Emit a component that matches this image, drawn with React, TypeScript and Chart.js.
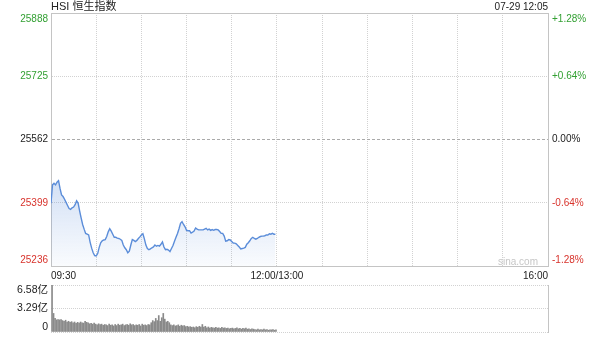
import React, { useEffect, useRef } from 'react';
import { Chart, registerables } from 'chart.js';

Chart.register(...registerables);

const FONT = '"Liberation Sans", Arial, "Noto Sans CJK SC", sans-serif';

const TITLE = 'HSI 恒生指数';
const STAMP = '07-29 12:05';
const WATERMARK = 'sina.com';

const prevClose = 25562;
const priceTicks = [25236, 25399, 25562, 25725, 25888];
const pctLabels = ['-1.28%', '-0.64%', '0.00%', '+0.64%', '+1.28%'];
const timeTicks = [0, 30, 60, 90, 120, 150, 180, 210, 240, 270, 300, 330];
const timeLabels = ['09:30', '', '', '', '', '12:00/13:00', '', '', '', '', '', '16:00'];
const volTicks = [0, 3.29, 6.58];
const volLabels = ['0', '3.29亿', '6.58亿'];

// one value per minute from 09:30
const prices = [
  25398, 25445, 25449, 25445, 25452, 25456, 25436, 25419, 25415, 25408,
  25400, 25392, 25384, 25382, 25386, 25388, 25394, 25404, 25398, 25378,
  25360, 25343, 25331, 25320, 25318, 25316, 25297, 25282, 25270, 25263,
  25262, 25268, 25284, 25296, 25301, 25303, 25304, 25312, 25324, 25332,
  25326, 25318, 25310, 25310, 25308, 25307, 25305, 25302, 25290, 25283,
  25278, 25270, 25274, 25290, 25304, 25302, 25299, 25302, 25307, 25311,
  25316, 25319, 25306, 25290, 25281, 25278, 25280, 25283, 25285, 25290,
  25287, 25289, 25287, 25292, 25298, 25285, 25278, 25279, 25277, 25273,
  25281, 25289, 25300, 25310, 25320, 25332, 25346, 25350, 25343, 25337,
  25328, 25327, 25327, 25321, 25323, 25326, 25334, 25331, 25329, 25329,
  25329, 25329, 25331, 25333, 25329, 25331, 25328, 25330, 25328, 25330,
  25330, 25329, 25325, 25320, 25320, 25313, 25300, 25301, 25304, 25303,
  25299, 25295, 25295, 25293, 25289, 25285, 25280, 25281, 25282, 25284,
  25292, 25296, 25301, 25307, 25310, 25307, 25305, 25307, 25310, 25312,
  25313, 25313, 25314, 25316, 25316, 25319, 25318, 25320, 25318, 25318,
];

// volume per minute, in 亿
const volumes = [
  6.58, 2.6, 1.9, 1.7, 1.75, 1.7, 1.75, 1.6, 1.5, 1.65,
  1.4, 1.5, 1.35, 1.45, 1.3, 1.4, 1.2, 1.35, 1.25, 1.4,
  1.3, 1.25, 1.5, 1.35, 1.3, 1.15, 1.2, 1.1, 1.25, 1.1,
  1.0, 1.15, 1.05, 1.1, 0.95, 1.05, 1.0, 0.9, 1.1, 0.95,
  1.0, 0.85, 1.05, 0.9, 1.1, 0.95, 1.0, 1.1, 0.9, 1.0,
  1.05, 0.95, 1.15, 1.0, 1.05, 0.9, 1.0, 0.95, 1.05, 0.85,
  1.1, 0.95, 1.0, 0.9, 1.05, 1.0, 1.3, 1.6, 1.45, 1.9,
  1.6, 2.3, 1.5, 2.0, 2.6, 1.8, 1.4, 1.5, 1.3, 1.0,
  0.9, 1.0, 0.85, 0.9, 1.0, 0.8, 0.95, 0.85, 0.9, 0.75,
  0.8, 0.7, 0.75, 0.65, 0.7, 0.6, 0.75, 0.65, 0.8, 0.7,
  1.05, 0.7, 0.8, 0.6, 0.7, 0.55, 0.65, 0.6, 0.55, 0.65,
  0.55, 0.6, 0.5, 0.65, 0.55, 0.6, 0.5, 0.55, 0.45, 0.5,
  0.55, 0.45, 0.5, 0.6, 0.45, 0.5, 0.4, 0.5, 0.45, 0.55,
  0.4, 0.45, 0.35, 0.45, 0.4, 0.35, 0.3, 0.4, 0.3, 0.35,
  0.3, 0.4, 0.3, 0.35, 0.25, 0.3, 0.3, 0.35, 0.25, 0.3,
];

const GREEN = '#33a033';
const RED = '#d8332c';
const DARK = '#222222';
const GRID = '#d2d2d2';
const BORDER = '#c4c4c4';
const LINE = '#5b8dd9';

const priceColor = (v: number) => (v > prevClose ? GREEN : v < prevClose ? RED : DARK);

const shiftLabel = (text: string, v: number, lo: number, hi: number) => {
  if (v === hi) return ['', text];
  if (v === lo) return [text, ''];
  return text;
};

const fixSize = (prop: 'width' | 'height', size: number) => (s: any) => {
  s[prop] = size;
  s.paddingTop = 0;
  s.paddingBottom = 0;
  s.paddingLeft = 0;
  s.paddingRight = 0;
};

const headerPlugin = {
  id: 'header',
  afterDraw(chart: any) {
    const { ctx, chartArea } = chart;
    ctx.save();
    ctx.textBaseline = 'middle';
    ctx.fillStyle = DARK;
    ctx.font = `11px ${FONT}`;
    ctx.textAlign = 'left';
    ctx.fillText(TITLE, chartArea.left, 7);
    ctx.font = `10px ${FONT}`;
    ctx.textAlign = 'right';
    ctx.fillText(STAMP, chartArea.right, 7);
    ctx.fillStyle = '#c6c6c6';
    ctx.font = `10px ${FONT}`;
    ctx.fillText(WATERMARK, chartArea.right - 10, chartArea.bottom - 4);
    ctx.restore();
  },
};

export default function App() {
  const mainRef = useRef<HTMLCanvasElement>(null);
  const volRef = useRef<HTMLCanvasElement>(null);

  useEffect(() => {
    const isEdge = (v: number) => v === priceTicks[0] || v === priceTicks[priceTicks.length - 1];
    const main = new Chart(mainRef.current as HTMLCanvasElement, {
      type: 'line',
      data: {
        datasets: [
          {
            data: prices.map((p, i) => ({ x: i, y: p })),
            borderColor: LINE,
            borderWidth: 1.4,
            pointRadius: 0,
            tension: 0,
            fill: 'start',
            backgroundColor: (ctx: any) => {
              const { chart } = ctx;
              const area = chart.chartArea;
              if (!area) return 'rgba(91,141,217,0.15)';
              const g = chart.ctx.createLinearGradient(0, area.top + 165, 0, area.bottom);
              g.addColorStop(0, 'rgba(91,141,217,0.28)');
              g.addColorStop(1, 'rgba(91,141,217,0.03)');
              return g;
            },
          },
        ],
      },
      options: {
        animation: false,
        responsive: false,
        maintainAspectRatio: false,
        layout: { padding: 0 },
        plugins: { legend: { display: false }, tooltip: { enabled: false } },
        scales: {
          x: {
            type: 'linear',
            position: 'bottom',
            min: 0,
            max: 330,
            offset: false,
            afterBuildTicks: (s: any) => {
              s.ticks = timeTicks.map((v) => ({ value: v }));
            },
            afterFit: fixSize('height', 14),
            ticks: {
              autoSkip: false,
              maxRotation: 0,
              align: 'inner',
              padding: 4,
              color: DARK,
              font: { family: FONT, size: 10 },
              callback: (v: any) => timeLabels[timeTicks.indexOf(Number(v))] ?? '',
            },
            grid: {
              drawTicks: false,
              offset: false,
              color: (ctx: any) =>
                ctx.tick && (ctx.tick.value === 0 || ctx.tick.value === 330) ? 'rgba(0,0,0,0)' : GRID,
            },
            border: { display: true, color: BORDER, dash: [1, 1] },
          },
          xTop: {
            type: 'linear',
            position: 'top',
            min: 0,
            max: 330,
            afterFit: fixSize('height', 13),
            ticks: { display: false },
            grid: { display: false, drawTicks: false },
            border: { display: true, color: BORDER },
          },
          y: {
            type: 'linear',
            position: 'left',
            min: priceTicks[0],
            max: priceTicks[priceTicks.length - 1],
            afterBuildTicks: (s: any) => {
              s.ticks = priceTicks.map((v) => ({ value: v }));
            },
            afterFit: fixSize('width', 51),
            ticks: {
              autoSkip: false,
              padding: 3,
              font: { family: FONT, size: 10 },
              color: (ctx: any) => priceColor(ctx.tick ? ctx.tick.value : prevClose),
              callback: (v: any) =>
                shiftLabel(String(v), Number(v), priceTicks[0], priceTicks[priceTicks.length - 1]),
            },
            grid: {
              drawTicks: false,
              color: (ctx: any) => {
                if (!ctx.tick) return GRID;
                if (isEdge(ctx.tick.value)) return 'rgba(0,0,0,0)';
                return ctx.tick.value === prevClose ? '#aaaaaa' : GRID;
              },
            },
            border: {
              display: true,
              color: BORDER,
              dash: (ctx: any) => (ctx.tick && ctx.tick.value === prevClose ? [3, 2] : [1, 1]),
            },
          },
          yRight: {
            type: 'linear',
            position: 'right',
            min: priceTicks[0],
            max: priceTicks[priceTicks.length - 1],
            afterBuildTicks: (s: any) => {
              s.ticks = priceTicks.map((v) => ({ value: v }));
            },
            afterFit: fixSize('width', 52),
            ticks: {
              autoSkip: false,
              padding: 4,
              font: { family: FONT, size: 10 },
              color: (ctx: any) => priceColor(ctx.tick ? ctx.tick.value : prevClose),
              callback: (v: any) =>
                shiftLabel(
                  pctLabels[priceTicks.indexOf(Number(v))] ?? '',
                  Number(v),
                  priceTicks[0],
                  priceTicks[priceTicks.length - 1]
                ),
            },
            grid: { display: false, drawTicks: false },
            border: { display: true, color: BORDER },
          },
        },
      } as any,
      plugins: [headerPlugin],
    });

    const vol = new Chart(volRef.current as HTMLCanvasElement, {
      type: 'bar',
      data: {
        datasets: [
          {
            data: volumes.map((v, i) => ({ x: i, y: v })),
            backgroundColor: '#8a8a8a',
            barThickness: 1,
          },
        ],
      },
      options: {
        animation: false,
        responsive: false,
        maintainAspectRatio: false,
        layout: { padding: { top: 5, bottom: 5, left: 0, right: 0 } },
        plugins: { legend: { display: false }, tooltip: { enabled: false } },
        scales: {
          x: {
            type: 'linear',
            min: -0.7,
            max: 330,
            offset: false,
            grid: { offset: false },
            display: false,
          },
          y: {
            type: 'linear',
            position: 'left',
            min: 0,
            max: volTicks[volTicks.length - 1],
            afterBuildTicks: (s: any) => {
              s.ticks = volTicks.map((v) => ({ value: v }));
            },
            afterFit: fixSize('width', 51),
            ticks: {
              autoSkip: false,
              padding: 3,
              color: DARK,
              font: { family: FONT, size: 10.5, lineHeight: 1.0 },
              callback: (v: any) =>
                shiftLabel(
                  volLabels[volTicks.indexOf(Number(v))] ?? '',
                  Number(v),
                  volTicks[0],
                  volTicks[volTicks.length - 1]
                ),
            },
            grid: { drawTicks: false, color: GRID },
            border: { display: false, dash: [1, 1] },
          },
          y2: {
            type: 'linear',
            position: 'right',
            min: 0,
            max: volTicks[volTicks.length - 1],
            afterFit: fixSize('width', 52),
            ticks: { display: false },
            grid: { display: false, drawTicks: false },
            border: { display: true, color: BORDER },
          },
        },
      } as any,
    });

    return () => {
      main.destroy();
      vol.destroy();
    };
  }, []);

  return (
    <div style={{ position: 'absolute', left: 0, top: 0, width: 600, height: 337, background: '#fff' }}>
      <canvas
        ref={mainRef}
        width={600}
        height={280}
        style={{ position: 'absolute', left: 0, top: 0, display: 'block' }}
      />
      <canvas
        ref={volRef}
        width={600}
        height={57}
        style={{ position: 'absolute', left: 0, top: 280, display: 'block' }}
      />
    </div>
  );
}
